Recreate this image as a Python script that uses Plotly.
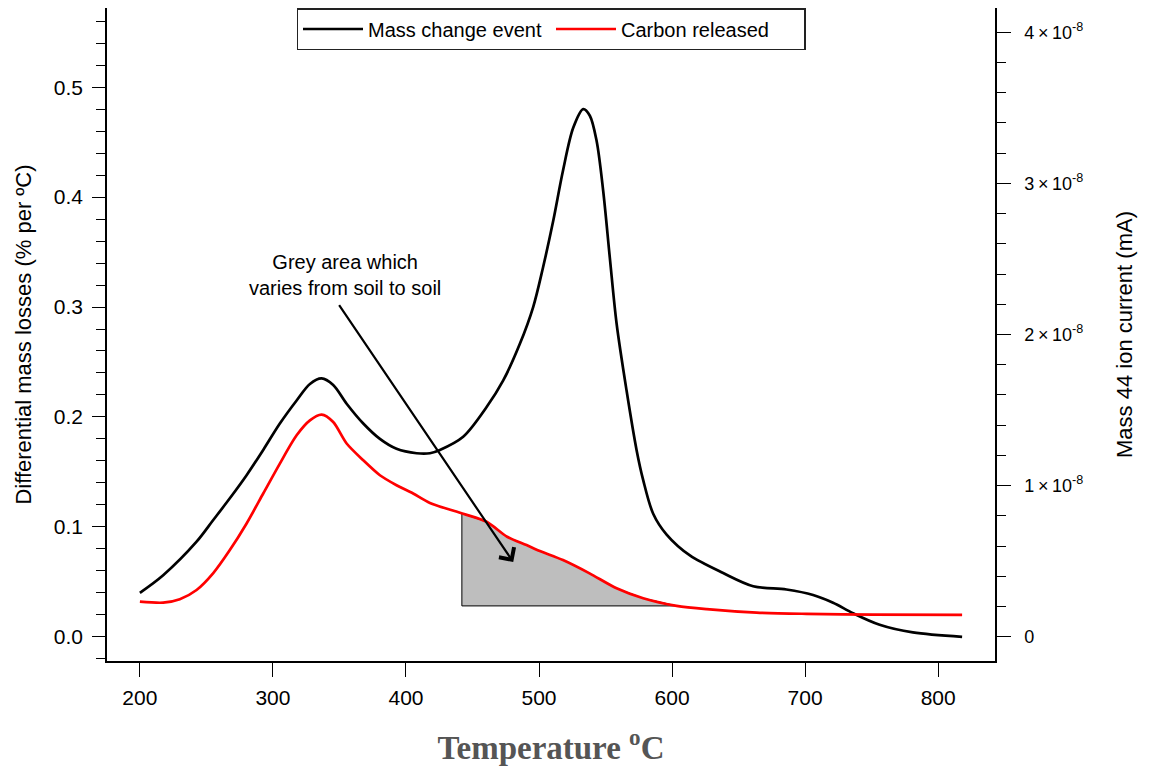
import numpy as np
import plotly.graph_objects as go

# ---- data ----
mass_temp = [200, 217.5, 242.6, 255, 267.6, 280.2, 292.7, 305.2, 317.8, 327.8, 336.6, 345.3,
             355.4, 367.9, 380.4, 392.9, 408, 418, 425.5, 443, 460.6, 473, 485.6, 495.6, 503,
             510.6, 518, 525.7, 533.2, 538.2, 543.3, 548.2, 553.2, 558.3, 565.8, 573.3, 578.3,
             585.8, 595.9, 613.4, 638.4, 661, 686, 706, 721, 736, 756, 781, 818]
mass_loss = [0.040, 0.056, 0.0865, 0.106, 0.126, 0.147, 0.170, 0.194, 0.215, 0.230, 0.235, 0.229,
             0.212, 0.194, 0.180, 0.171, 0.167, 0.167, 0.170, 0.182, 0.209, 0.233, 0.2665, 0.300,
             0.336, 0.378, 0.424, 0.463, 0.480, 0.474, 0.451, 0.406, 0.345, 0.285, 0.224, 0.170,
             0.1425, 0.112, 0.093, 0.074, 0.058, 0.046, 0.043, 0.038, 0.031, 0.0215, 0.011, 0.004, 0.0]

carbon_temp = [200, 217.5, 230, 242.6, 255, 267.6, 280.2, 292.7, 305.2, 317.8, 327.8, 336.6,
               345.3, 355.4, 367.9, 380.4, 392.9, 405.4, 418, 443, 460.6, 476, 490.6, 500.6,
               518, 538, 558.3, 578.3, 603.4, 626, 663.5, 701, 751, 818]
carbon_ion = [0.233e-8, 0.226e-8, 0.249e-8, 0.310e-8, 0.420e-8, 0.574e-8, 0.750e-8, 0.948e-8,
              1.146e-8, 1.333e-8, 1.432e-8, 1.470e-8, 1.421e-8, 1.279e-8, 1.168e-8, 1.069e-8,
              1.003e-8, 0.948e-8, 0.886e-8, 0.814e-8, 0.761e-8, 0.662e-8, 0.607e-8, 0.568e-8,
              0.508e-8, 0.420e-8, 0.321e-8, 0.255e-8, 0.205e-8, 0.183e-8, 0.160e-8, 0.152e-8,
              0.147e-8, 0.145e-8]

grey_start, grey_end = 442, 604

x_ticks = [200, 300, 400, 500, 600, 700, 800]
left_ylim = [0, 0.55]
right_ylim = [0, 4e-8]
right_tickvals = [0, 1e-8, 2e-8, 3e-8, 4e-8]
right_ticktext = ["0", "1\u2009\u00d7\u200910<sup>-8</sup>", "2\u2009\u00d7\u200910<sup>-8</sup>",
                  "3\u2009\u00d7\u200910<sup>-8</sup>", "4\u2009\u00d7\u200910<sup>-8</sup>"]

arrow_from = (349, 0.303)
arrow_to = (480.6, 0.068)
label_pos = (354, 0.329)
label_text = "Grey area which<br>varies from soil to soil"


def r_range(lo, hi):
    pad = 0.04 * (hi - lo)
    return [lo - pad, hi + pad]


# ---- grey polygon from the carbon curve ----
ct = np.array(carbon_temp)
ci = np.array(carbon_ion)
inside = (ct > grey_start) & (ct < grey_end)
top_x = [grey_start] + list(ct[inside]) + [grey_end]
top_y = [np.interp(grey_start, ct, ci)] + list(ci[inside]) + [np.interp(grey_end, ct, ci)]
base = top_y[-1]
poly_x = [grey_start] + top_x + [grey_start]
poly_y = [base] + top_y + [base]

FONT = "Liberation Sans, Arial, sans-serif"

fig = go.Figure()
fig.add_trace(go.Scatter(x=poly_x, y=poly_y, yaxis="y2", mode="lines", fill="toself",
                         fillcolor="#bebebe", line=dict(color="black", width=1),
                         showlegend=False, hoverinfo="skip"))
fig.add_trace(go.Scatter(x=mass_temp, y=mass_loss, mode="lines", name="Mass change event",
                         line=dict(color="black", width=2.7, shape="spline", smoothing=0.9)))
fig.add_trace(go.Scatter(x=carbon_temp, y=carbon_ion, yaxis="y2", mode="lines",
                         name="Carbon released",
                         line=dict(color="#ff0000", width=2.7, shape="spline", smoothing=0.8)))

fig.add_annotation(x=arrow_to[0], y=arrow_to[1], ax=arrow_from[0], ay=arrow_from[1],
                   xref="x", yref="y", axref="x", ayref="y", text="", showarrow=True,
                   arrowhead=4, arrowwidth=2.2, arrowsize=1.6, arrowcolor="black", standoff=0)
fig.add_annotation(x=label_pos[0], y=label_pos[1], xref="x", yref="y", text=label_text,
                   showarrow=False, font=dict(family=FONT, size=20, color="black"))

fig.update_layout(
    width=1153, height=769,
    margin=dict(l=99, r=166, t=0, b=116, autoexpand=False),
    paper_bgcolor="white", plot_bgcolor="white",
    font=dict(family=FONT, size=20, color="black"),
    legend=dict(orientation="h", x=0.5, xanchor="center", y=1, yanchor="top",
                bordercolor="#222", borderwidth=1.5, bgcolor="white",
                font=dict(family=FONT, size=20), entrywidth=178, itemwidth=60),
    xaxis=dict(range=r_range(min(mass_temp), max(mass_temp)), tickvals=x_ticks,
               ticks="outside", ticklen=14, tickwidth=1.3, tickcolor="black",
               tickfont=dict(size=21), automargin=False, ticklabelstandoff=3,
               showline=True, linecolor="black", linewidth=1.5, mirror=True,
               showgrid=False, zeroline=False,
               title=dict(text="<b>Temperature <sup>o</sup>C</b>",
                          font=dict(family="Liberation Serif, Times New Roman, serif",
                                    size=33, color="#555555"), standoff=28)),
    yaxis=dict(range=r_range(*left_ylim), tick0=0, dtick=0.1, tickformat=".1f",
               ticks="outside", ticklen=13, tickwidth=1.3, tickcolor="black",
               tickfont=dict(size=21), automargin=False, ticklabelstandoff=5,
               showline=True, linecolor="black", linewidth=1.5, mirror=True,
               showgrid=False, zeroline=False,
               minor=dict(tick0=0, dtick=0.02, ticks="outside", ticklen=9, tickwidth=1.2,
                          tickcolor="black", showgrid=False),
               title=dict(text="Differential mass losses (% per \u00baC)",
                          font=dict(family=FONT, size=22), standoff=16)),
    yaxis2=dict(range=r_range(*right_ylim), overlaying="y", side="right",
                tickmode="array", tickvals=right_tickvals, ticktext=right_ticktext,
                ticks="outside", ticklen=14, tickwidth=1.3, tickcolor="black",
                showline=True, linecolor="black", linewidth=1.5, automargin=False,
                ticklabelstandoff=10,
                showgrid=False, zeroline=False, tickfont=dict(family=FONT, size=18),
                minor=dict(tick0=0, dtick=0.2e-8, ticks="outside", ticklen=9, tickwidth=1.2,
                           tickcolor="black", showgrid=False),
                title=dict(text="Mass 44 ion current (mA)", font=dict(family=FONT, size=22),
                           standoff=34)),
)

fig.write_html("out.html")
